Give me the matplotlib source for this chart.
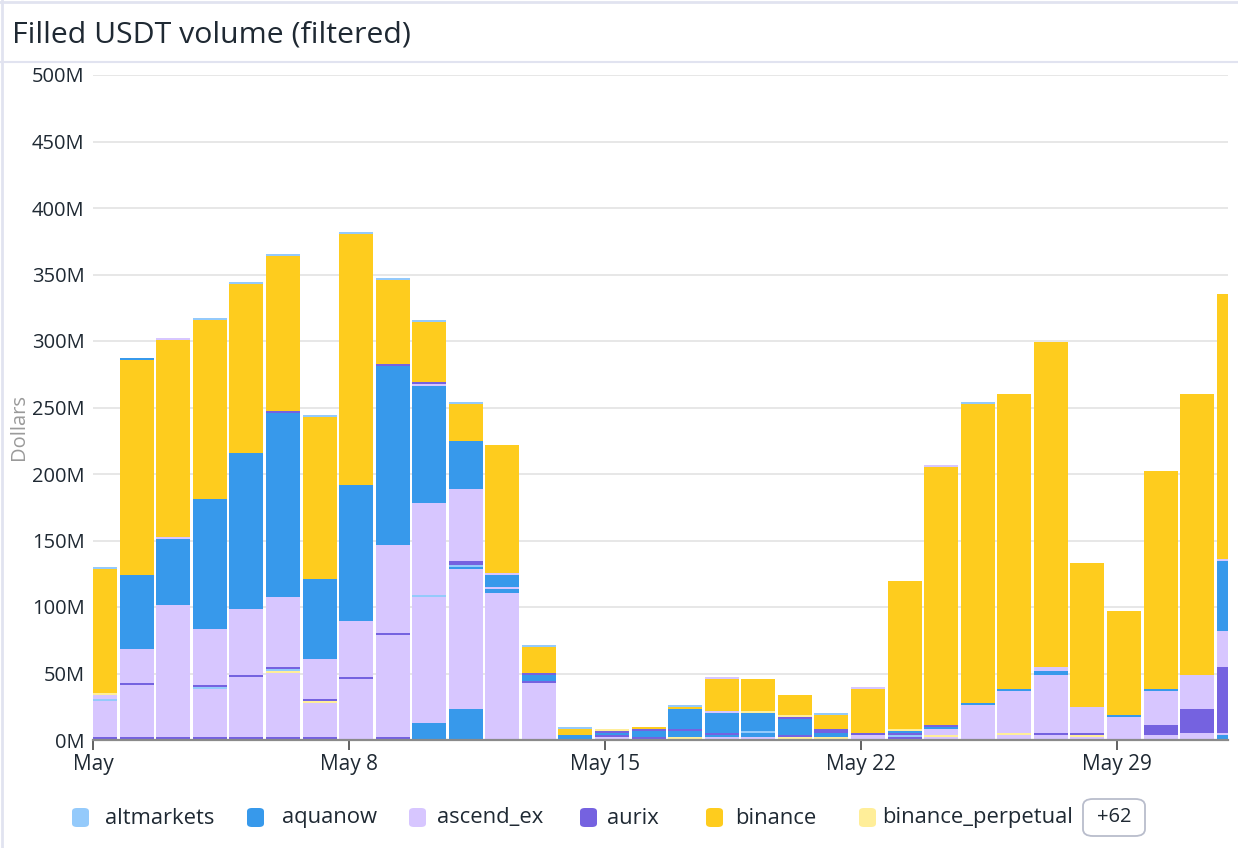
import numpy as np
import matplotlib.pyplot as plt
from matplotlib.patches import FancyBboxPatch
from matplotlib.lines import Line2D
from matplotlib.ticker import FuncFormatter

plt.rcParams['font.family'] = ['Open Sans', 'DejaVu Sans']

# one bar per day, May 1 .. Jun 1 (values in millions of dollars)
days = np.arange(32)
tick_days = [0, 7, 14, 21, 28]
tick_labels = ['May', 'May 8', 'May 15', 'May 22', 'May 29']

# stack order bottom -> top; the unnamed ones stand in for the "+62" hidden exchanges
bottom_blue = [0, 0, 0, 0, 0, 0, 0, 0, 0, 12.8, 23.4, 0, 0, 0, 0, 0.75, 0, 0, 0, 0, 0, 0, 0, 0, 0, 0, 0, 0, 0, 0, 0, 3.8]
low_lp = [0, 0, 0, 0, 0, 0, 0, 0, 0, 0, 0, 0, 0, 0, 0, 0, 0, 0, 0, 0, 0, 0, 0, 0, 0, 0, 0, 0, 0, 3.8, 5.3, 1.5]
aurix = [2.2, 2.2, 2.2, 2.2, 2.2, 2.2, 2.2, 0.7, 2.2, 0, 0, 0, 0, 0, 0, 1.5, 0.75, 0, 0, 0, 0, 0, 2.3, 0.75, 0, 0, 0, 0, 0.75, 7.5, 18, 49.7]
ascend_ex = [27.3, 39.3, 99.3, 36.3, 45.2, 48.3, 25.6, 45.2, 76.8, 94.8, 105.2, 110.8, 42.9, 0, 2.3, 0, 0, 2.3, 2.3, 0, 0, 3.8, 0, 1.5, 26.3, 3.8, 3.8, 2.3, 16.5, 25.5, 25.6, 27]
mid_ly = [0, 0, 0, 0, 0, 1.5, 1.5, 0, 0, 0, 0, 0, 0, 0, 0, 0, 1.5, 0, 0, 2.3, 2.3, 0, 0, 1.5, 0, 1.5, 0, 1.5, 0, 0, 0, 0]
mid_blue = [0, 0, 0, 0, 0, 0, 0, 0, 0, 0, 1.5, 3, 0, 0, 0, 0, 4.5, 1.5, 3, 0, 3, 0, 0, 0, 0, 0, 0, 0, 0, 0, 0, 0]
mid_lb = [1.5, 0, 0, 1.5, 0, 1.5, 0, 0, 0, 1.4, 1.5, 0, 0, 0, 0, 0, 0, 0, 1.5, 0, 0, 0, 1.5, 0, 0, 0, 0, 0, 0, 0, 0, 0]
mid_purple = [0, 1.5, 0, 1.5, 1.5, 1.5, 1.5, 1.5, 1.5, 0, 3, 0, 1.5, 0, 1.5, 0, 1.5, 1.5, 0, 1.5, 3, 1.5, 1.5, 0, 0, 0, 1.5, 1.5, 0, 0, 0, 0]
upper_lp = [3, 25.4, 0, 42, 49.6, 52.6, 30.2, 42.1, 66.1, 69.2, 54.1, 1.5, 0, 0, 0, 0, 0, 0, 0, 0, 0, 0, 0, 4.5, 0, 31.5, 43.6, 19.5, 0, 0, 0, 0]
aquanow = [0, 55.6, 49.6, 97.5, 117.3, 138.3, 60, 102.2, 134.6, 88, 36.1, 9.1, 4.5, 3.8, 1.5, 4.5, 15, 15, 13.5, 12, 0, 0, 1.5, 1.5, 1.5, 1.5, 3, 0, 1.5, 1.5, 0, 52.6]
over_lp = [0, 0, 1.5, 0, 0, 0, 0, 0, 0, 1.5, 0, 1.2, 0, 0, 0, 0, 0, 1.5, 0, 0, 0, 0, 0, 0, 0, 0, 3, 0, 0, 0, 0, 1.4]
over_purple = [0, 0, 0, 0, 0, 1.5, 0, 0, 1.5, 1.5, 0, 0, 1.5, 0, 1.5, 1.5, 0, 0, 0, 1.5, 0, 0, 0, 1.5, 0, 0, 0, 0, 0, 0, 0, 0]
binance_perpetual = [1.1, 0, 0, 0, 0, 0, 0, 0, 0, 0, 0, 0, 0, 0, 1.5, 0, 0, 0, 1.5, 1.5, 0, 0, 1.5, 0, 0, 0, 0, 0, 0, 0, 0, 0]
binance = [93.4, 161.5, 148.1, 135, 127.2, 116.6, 122, 189, 63.3, 45.3, 28.1, 96.2, 19.5, 4.5, 0, 1.5, 1.5, 24.1, 24.1, 15, 10.5, 33, 111.2, 194, 224.8, 221.9, 244.6, 108.2, 78.2, 164, 211.3, 199.3]
altmarkets = [1.3, 0, 0, 1.2, 1.4, 1.4, 1.4, 1.3, 1.4, 1.3, 1.2, 0, 1.5, 1.5, 0, 0, 1.5, 0, 0, 0, 1.5, 0, 0, 0, 1.5, 0, 0, 0, 0, 0, 0, 0]
cap_lp = [0, 0, 1.3, 0, 0, 0, 0, 0, 0, 0, 0, 0, 0, 0, 0, 0, 0, 1.5, 0, 0, 0, 1.5, 0, 1.5, 0, 0, 0, 0, 0, 0, 0, 0]
cap_blue = [0, 1.5, 0, 0, 0, 0, 0, 0, 0, 0, 0, 0, 0, 0, 0, 0, 0, 0, 0, 0, 0, 0, 0, 0, 0, 0, 0, 0, 0, 0, 0, 0]

legend_names = ['altmarkets', 'aquanow', 'ascend_ex', 'aurix', 'binance', 'binance_perpetual']
hidden_count = 62

c_lb = '#94cafb'
c_blue = '#3799eb'
c_lp = '#d7c6ff'
c_purple = '#7562e0'
c_yellow = '#fecc1e'
c_ly = '#ffee99'
legend_colors = [c_lb, c_blue, c_lp, c_purple, c_yellow, c_ly]

stack = [
    (bottom_blue, c_blue), (low_lp, c_lp), (aurix, c_purple), (ascend_ex, c_lp),
    (mid_ly, c_ly), (mid_blue, c_blue), (mid_lb, c_lb), (mid_purple, c_purple),
    (upper_lp, c_lp), (aquanow, c_blue), (over_lp, c_lp), (over_purple, c_purple),
    (binance_perpetual, c_ly), (binance, c_yellow), (altmarkets, c_lb),
    (cap_lp, c_lp), (cap_blue, c_blue),
]

W, H = 1238, 848
fig = plt.figure(figsize=(W / 100, H / 100), dpi=100)
ax = fig.add_axes([93 / W, 1 - 740 / H, (1228 - 93) / W, (740 - 75) / H])

bottom = np.zeros(len(days))
for vals, col in stack:
    vals = np.array(vals, dtype=float)
    ax.bar(days - 0.27, vals, width=0.93, bottom=bottom, align='edge',
           color=col, linewidth=0, zorder=2)
    bottom += vals

ax.set_xlim(0, 31.04)
ax.set_ylim(0, 500)
ax.set_yticks(np.arange(0, 501, 50))
ax.yaxis.set_major_formatter(FuncFormatter(lambda v, p: '%dM' % v))
ax.set_xticks(tick_days)
ax.set_xticklabels(tick_labels)
ax.grid(axis='y', color='#e3e3e3', linewidth=1.2, zorder=0)
ax.set_axisbelow(True)
for s in ['top', 'right', 'left']:
    ax.spines[s].set_visible(False)
ax.spines['bottom'].set_color('#8a8a8a')
ax.spines['bottom'].set_linewidth(1.6)
ax.spines['bottom'].set_zorder(3)
ax.tick_params(axis='y', length=0, pad=6, labelsize=14.5, labelcolor='#1f2933')
ax.tick_params(axis='x', length=7, width=1.3, color='#555555', pad=3,
               labelsize=15, labelcolor='#1f2933')
ax.set_ylabel('Dollars', color='#9a9a9a', fontsize=14.5)
ax.yaxis.set_label_coords(-64 / (1228 - 93), 0.47)

# panel frame and title
fig.text(12 / W, 1 - 35 / H, 'Filled USDT volume (filtered)', fontsize=21.8,
         color='#1f2933', va='center', ha='left')
fig.add_artist(Line2D([0, 1], [1 - 62 / H, 1 - 62 / H], color='#e1e3f0', linewidth=1.5))
fig.add_artist(Line2D([1.5 / W, 1.5 / W], [0, 1], color='#e1e3f0', linewidth=2))
fig.add_artist(Line2D([0, 1], [1 - 1.5 / H, 1 - 1.5 / H], color='#e1e3f0', linewidth=2))

# legend drawn by hand
sq_x = [72, 247, 409, 580, 706, 859]
txt_x = [105, 282, 437, 607, 735, 882]
ly_ = 818
for name, col, sx, tx in zip(legend_names, legend_colors, sq_x, txt_x):
    fig.add_artist(FancyBboxPatch((sx / W, 1 - (ly_ + 9) / H), 17 / W, 19 / H,
                                  boxstyle='round,pad=0,rounding_size=0.004',
                                  transform=fig.transFigure, facecolor=col,
                                  edgecolor='none'))
    fig.text(tx / W, 1 - ly_ / H, name, fontsize=15.8, color='#1f2933',
             va='center', ha='left')
fig.add_artist(FancyBboxPatch((1083 / W, 1 - 836 / H), 62 / W, 37 / H,
                              boxstyle='round,pad=0,rounding_size=0.008',
                              transform=fig.transFigure, facecolor='white',
                              edgecolor='#b9bdcc', linewidth=1.3))
fig.text(1114 / W, 1 - 817 / H, '+%d' % hidden_count, fontsize=14.5, color='#1f2933',
         va='center', ha='center')

fig.savefig('out.png', dpi=100)
